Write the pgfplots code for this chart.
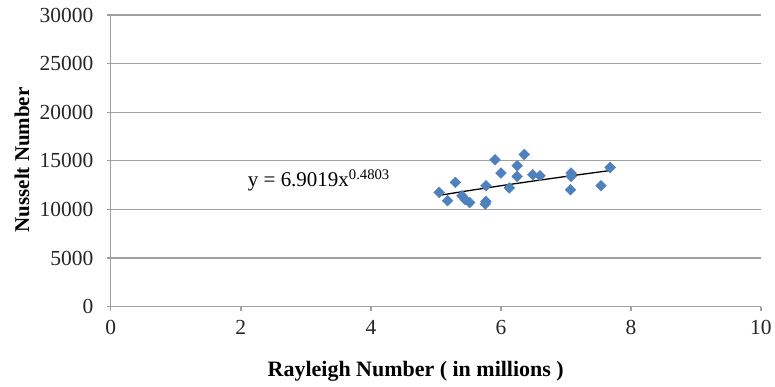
\documentclass[border=0pt]{standalone}
\usepackage{fontspec}
\setmainfont{Liberation Serif}
\usepackage{pgfplots}
\pgfplotsset{compat=1.18}
\definecolor{mkblue}{HTML}{4F81BD}
\definecolor{gridgray}{HTML}{A0A0A0}
\begin{document}
\begin{tikzpicture}
\begin{axis}[
  scale only axis,
  width=651pt, height=292pt,
  xmin=0, xmax=10, ymin=0, ymax=30000,
  xtick={0,2,4,6,8,10},
  ytick={0,5000,10000,15000,20000,25000,30000},
  scaled y ticks=false,
  /pgf/number format/assume math mode=true,
  /pgf/number format/.cd, set thousands separator={}, /pgfplots/.cd,
  axis lines=left,
  axis line style={gridgray, line width=1.3pt, -},
  ymajorgrids,
  grid style={gridgray, line width=1.3pt},
  tick style={gridgray, line width=1.3pt},
  tick align=outside,
  major tick length=4pt,
  ticklabel style={font=\fontsize{21.5}{24}\selectfont, text=black!85},
  yticklabel style={xshift=-10pt},
  xticklabel style={yshift=-6pt},
  xlabel={\textbf{Rayleigh Number ( in millions )}},
  ylabel={\textbf{Nusselt Number}},
  xlabel style={font=\fontsize{22}{24}\selectfont, at={(axis description cs:0.469,-0.2226)}, anchor=center},
  ylabel style={font=\fontsize{21}{24}\selectfont, at={(axis description cs:-0.1367,0.503)}, anchor=center},
  clip=false,
]
\addplot[only marks, mark=square*, mark size=3.8pt, mkblue, mark options={draw=mkblue, fill=mkblue, rotate=45}] coordinates {
(5.05,11740) (5.18,10890) (5.30,12770) (5.40,11400) (5.45,11000) (5.52,10700)
(5.77,12430) (5.77,10820) (5.76,10550) (5.91,15100) (6.00,13740) (6.13,12200)
(6.25,14490) (6.25,13390) (6.36,15650) (6.49,13560) (6.60,13460)
(7.08,13740) (7.08,13400) (7.07,12020) (7.54,12430) (7.68,14310)
};
\addplot[black, line width=1.3pt] coordinates {
(5.05,11443) (5.5,11922) (6.0,12432) (6.5,12918) (7.0,13386) (7.7,14014)
};
\node[font=\fontsize{21}{24}\selectfont, anchor=center] at (axis cs:3.2,13000) {y = 6.9019x\textsuperscript{0.4803}};
\end{axis}
\path (current axis.south west) ++(-111pt,-80pt) rectangle ++(775pt,387pt);
\end{tikzpicture}
\end{document}
